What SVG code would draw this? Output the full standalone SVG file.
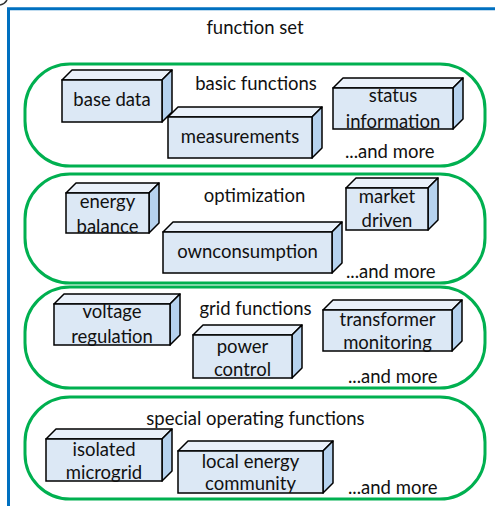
<svg xmlns="http://www.w3.org/2000/svg" width="495" height="506" viewBox="0 0 495 506">
<style>
text{font-family:Lato,"Liberation Sans",sans-serif;font-size:18.5px;fill:#111}
.c{text-anchor:middle}
.pill{fill:#fff;stroke:#00B050;stroke-width:3}
.front{fill:#DCE8F5;stroke:#000;stroke-width:1.5}
.top{fill:#EAF1FA;stroke:#000;stroke-width:1.5;stroke-linejoin:round}
.side{fill:#B6D2EE;stroke:#000;stroke-width:1.5;stroke-linejoin:round}
</style>
<rect width="495" height="506" fill="#fff"/>
<path d="M0,5 Q5,4 7,0" fill="none" stroke="#333" stroke-width="1.5"/>
<g id="frame">
<path d="M8.5,506 V8.7 H495" fill="none" stroke="#0070C0" stroke-width="3"/>
<text class="c" x="255" y="34">function set</text>
</g>
<g id="group-basic">
<rect class="pill" x="25" y="64" width="460" height="102" rx="45"/>
<text class="c" x="256" y="90">basic functions</text>
<text x="345" y="158">...and more</text>
</g>
<g id="group-optimization">
<rect class="pill" x="25" y="174" width="460" height="109" rx="45"/>
<text class="c" x="254.5" y="202">optimization</text>
<text x="346" y="278">...and more</text>
</g>
<g id="group-grid">
<rect class="pill" x="25" y="287" width="460" height="101" rx="45"/>
<text class="c" x="255.5" y="315">grid functions</text>
<text x="348" y="383">...and more</text>
</g>
<g id="group-special">
<rect class="pill" x="25" y="397" width="460" height="102" rx="45"/>
<text class="c" x="255.5" y="425">special operating functions</text>
<text x="348" y="494">...and more</text>
</g>
<g id="base-data">
<polygon class="top" points="62,80 72,70 172,70 162,80"/>
<polygon class="side" points="162,80 172,70 172,112 162,122"/>
<rect class="front" x="62" y="80" width="100" height="42"/>
<text class="c" x="112" y="106">base data</text>
</g>
<g id="measurements">
<polygon class="top" points="168,117 178,107 322,107 312,117"/>
<polygon class="side" points="312,117 322,107 322,148 312,158"/>
<rect class="front" x="168" y="117" width="144" height="41"/>
<text class="c" x="240" y="143">measurements</text>
</g>
<g id="status-information">
<polygon class="top" points="333,88 343,78 463,78 453,88"/>
<polygon class="side" points="453,88 463,78 463,119 453,129"/>
<rect class="front" x="333" y="88" width="120" height="41"/>
<text class="c" x="393" y="102">status</text>
<text class="c" x="393" y="128">information</text>
</g>
<g id="energy-balance">
<polygon class="top" points="66,193 76,183 159,183 149,193"/>
<polygon class="side" points="149,193 159,183 159,223 149,233"/>
<rect class="front" x="66" y="193" width="83" height="40"/>
<text class="c" x="107.5" y="208">energy</text>
<text class="c" x="107.5" y="233">balance</text>
</g>
<g id="ownconsumption">
<polygon class="top" points="163,232 173,222 342,222 332,232"/>
<polygon class="side" points="332,232 342,222 342,263 332,273"/>
<rect class="front" x="163" y="232" width="169" height="41"/>
<text class="c" x="247.5" y="258">ownconsumption</text>
</g>
<g id="market-driven">
<polygon class="top" points="346,188 356,178 438,178 428,188"/>
<polygon class="side" points="428,188 438,178 438,220 428,230"/>
<rect class="front" x="346" y="188" width="82" height="42"/>
<text class="c" x="387" y="203">market</text>
<text class="c" x="387" y="227">driven</text>
</g>
<g id="voltage-regulation">
<polygon class="top" points="54,304 64,294 180,294 170,304"/>
<polygon class="side" points="170,304 180,294 180,335 170,345"/>
<rect class="front" x="54" y="304" width="116" height="41"/>
<text class="c" x="112" y="318">voltage</text>
<text class="c" x="112" y="343">regulation</text>
</g>
<g id="power-control">
<polygon class="top" points="193,335 203,325 302,325 292,335"/>
<polygon class="side" points="292,335 302,325 302,368 292,378"/>
<rect class="front" x="193" y="335" width="99" height="43"/>
<text class="c" x="242.5" y="353">power</text>
<text class="c" x="242.5" y="376">control</text>
</g>
<g id="transformer-monitoring">
<polygon class="top" points="323,310 333,300 462,300 452,310"/>
<polygon class="side" points="452,310 462,300 462,341 452,351"/>
<rect class="front" x="323" y="310" width="129" height="41"/>
<text class="c" x="387.5" y="326">transformer</text>
<text class="c" x="387.5" y="349">monitoring</text>
</g>
<g id="isolated-microgrid">
<polygon class="top" points="46,439 56,429 172,429 162,439"/>
<polygon class="side" points="162,439 172,429 172,471 162,481"/>
<rect class="front" x="46" y="439" width="116" height="42"/>
<text class="c" x="104" y="456">isolated</text>
<text class="c" x="104" y="479">microgrid</text>
</g>
<g id="local-energy-community">
<polygon class="top" points="178,451 188,441 333,441 323,451"/>
<polygon class="side" points="323,451 333,441 333,483 323,493"/>
<rect class="front" x="178" y="451" width="145" height="42"/>
<text class="c" x="250.5" y="468">local energy</text>
<text class="c" x="250.5" y="490">community</text>
</g>
<g id="connectors"></g>
</svg>
